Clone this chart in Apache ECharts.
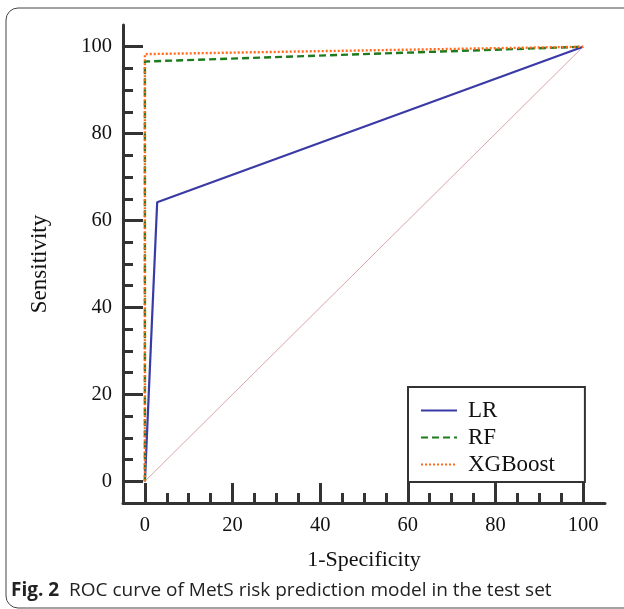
<!DOCTYPE html>
<html>
<head>
<meta charset="utf-8">
<script src="https://cdn.jsdelivr.net/npm/echarts@6/dist/echarts.min.js"></script>
<style>
  html, body { margin: 0; padding: 0; background: #fff; }
  #chart { width: 624px; height: 609px; }
</style>
</head>
<body>
<div id="chart"></div>
<script>
// ROC points (1-Specificity, Sensitivity), in percent
const lrFpr = [0, 2.8, 100];
const lrTpr = [0, 64.2, 100];
const rfFpr = [0, 0, 100];
const rfTpr = [0, 96.6, 100];
const xgbFpr = [0, 0, 100];
const xgbTpr = [0, 98.3, 100];
const refFpr = [0, 100];
const refTpr = [0, 100];

const seriesNames = ['LR', 'RF', 'XGBoost'];
const majorTicks = [0, 20, 40, 60, 80, 100];
const minorTicks = [5, 10, 15, 25, 30, 35, 45, 50, 55, 65, 70, 75, 85, 90, 95];

const pairs = (xs, ys) => xs.map((x, i) => [x, ys[i]]);

const serif = '"Liberation Serif", "Times New Roman", serif';
const axisColor = '#333';

function majorAxis(name, extra) {
  return Object.assign({
    type: 'value',
    min: -5,
    max: 105,
    name: name,
    nameLocation: 'middle',
    axisLine: { show: true, onZero: false, lineStyle: { color: axisColor, width: 3 } },
    axisTick: { show: true, inside: true, length: 20, customValues: majorTicks,
                lineStyle: { color: axisColor, width: 3 } },
    splitLine: { show: false }
  }, extra);
}

function minorAxis(extra) {
  return Object.assign({
    type: 'value',
    min: -5,
    max: 105,
    axisLine: { show: false, onZero: false },
    axisTick: { show: true, inside: true, length: 10, customValues: minorTicks,
                lineStyle: { color: axisColor, width: 3 } },
    axisLabel: { show: false },
    splitLine: { show: false }
  }, extra);
}

const chart = echarts.init(document.getElementById('chart'), null, { renderer: 'canvas' });

chart.setOption({
  animation: false,
  backgroundColor: '#fff',
  grid: { left: 123, right: 19, top: 25, bottom: 106 },
  xAxis: [
    majorAxis('1-Specificity', { position: 'bottom', nameGap: 46,
      nameTextStyle: { fontFamily: serif, fontSize: 22, color: '#111' },
      axisLabel: { customValues: majorTicks, fontFamily: serif, fontSize: 20.5, color: '#111', margin: 12 } }),
    minorAxis({ position: 'bottom' })
  ],
  yAxis: [
    majorAxis('Sensitivity', { position: 'left', nameGap: 72,
      nameTextStyle: { fontFamily: serif, fontSize: 23, color: '#111' },
      axisLabel: { customValues: majorTicks, fontFamily: serif, fontSize: 20.5, color: '#111', margin: 11 } }),
    minorAxis({ position: 'left' })
  ],
  legend: {
    data: seriesNames,
    orient: 'vertical',
    left: 408,
    top: 387,
    padding: [12, 30, 6, 12],
    itemGap: 4,
    itemWidth: 36,
    itemHeight: 20,
    itemStyle: { opacity: 0 },
    borderColor: '#333',
    borderWidth: 2,
    borderRadius: 0,
    textStyle: { fontFamily: serif, fontSize: 23, color: '#111', padding: [0, 0, 0, 6] }
  },
  graphic: [
    {
      type: 'rect',
      shape: { x: 6, y: 8, width: 640, height: 600, r: 12 },
      style: { fill: 'none', stroke: '#444', lineWidth: 1 },
      silent: true
    },
    {
      type: 'text',
      left: 11,
      top: 581,
      style: {
        text: '{b|Fig. 2}  ROC curve of MetS risk prediction model in the test set',
        font: '19px "Open Sans", "Noto Sans", sans-serif',
        fill: '#222',
        rich: {
          b: { fontWeight: 'bold', fontSize: 19, fontFamily: '"Open Sans", "Noto Sans", sans-serif', fill: '#222' }
        }
      }
    }
  ],
  series: [
    {
      name: 'reference',
      type: 'line',
      data: pairs(refFpr, refTpr),
      symbol: 'none',
      lineStyle: { color: '#dba5a8', width: 1 },
      z: 1,
      silent: true
    },
    {
      name: 'LR',
      type: 'line',
      data: pairs(lrFpr, lrTpr),
      symbol: 'none',
      color: '#3a3aa6',
      lineStyle: { color: '#3a3aa6', width: 2.2 },
      z: 2
    },
    {
      name: 'RF',
      type: 'line',
      data: pairs(rfFpr, rfTpr),
      symbol: 'none',
      color: '#1d7a1d',
      lineStyle: { color: '#1d7a1d', width: 2.4, type: [7, 4] },
      z: 3
    },
    {
      name: 'XGBoost',
      type: 'line',
      data: pairs(xgbFpr, xgbTpr),
      symbol: 'none',
      color: '#ff6a1c',
      lineStyle: { color: '#ff6a1c', width: 2.4, type: [2, 2] },
      z: 4
    }
  ]
});
</script>
</body>
</html>
